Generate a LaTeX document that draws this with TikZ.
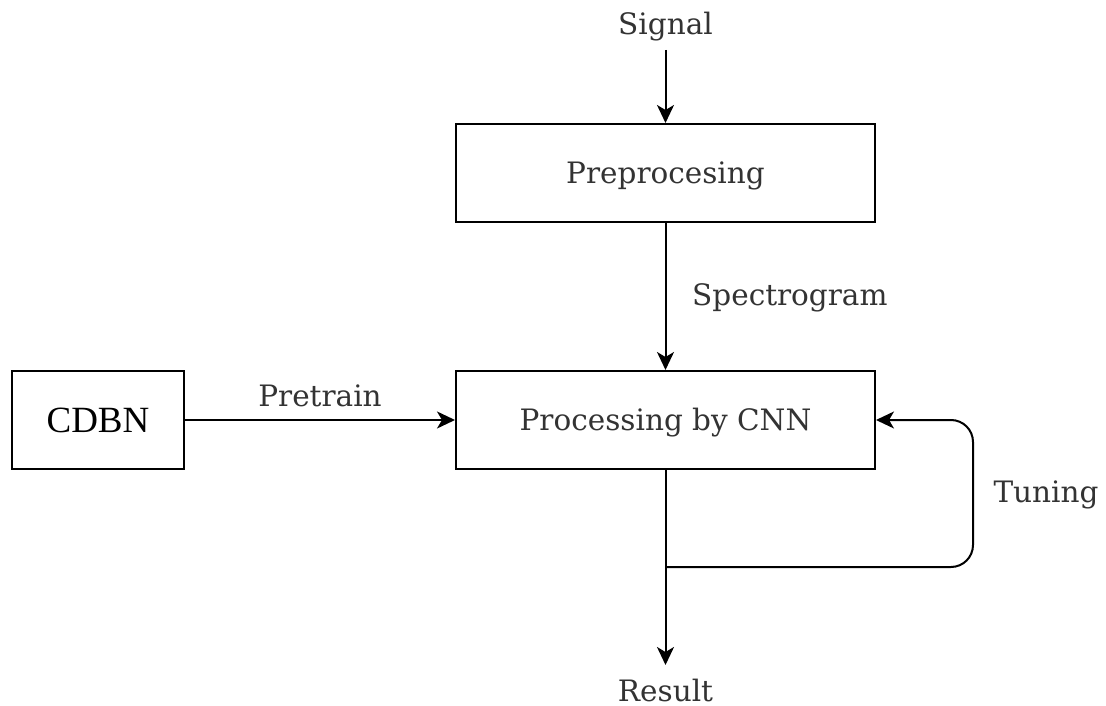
\documentclass[tikz,border=0pt]{standalone}
\usepackage{fontspec}
\setmainfont{DejaVu Serif}
\newfontfamily\timesfont{Liberation Serif}
\usetikzlibrary{arrows.meta}
\tikzset{
  txt/.style={text=black!80, font=\fontsize{29.5}{34}\selectfont, inner sep=0pt},
  block/.style={draw=black, line width=2pt, minimum width=419pt, minimum height=98pt, inner sep=0pt, txt, text height=24pt, text depth=4pt},
  smallblock/.style={draw=black, line width=2pt, minimum width=172pt, minimum height=98pt, inner sep=0pt, text=black, font=\timesfont\fontsize{37}{42}\selectfont},
  flow/.style={line width=2pt, -{Stealth[length=18pt, width=17pt, inset=5pt]}},
}
\begin{document}
\begin{tikzpicture}[x=1pt, y=-1pt]
  \useasboundingbox (0,0) rectangle (1106,706);
  % boxes
  \node[block] (pre) at (665.5,173) {Preprocesing};
  \node[block] (cnn) at (665.5,420) {Processing by CNN};
  \node[smallblock] (cdbn) at (98,420) {CDBN};
  % free labels
  \node[txt] (signal) at (665.5,27) {Signal};
  \node[txt] (result) at (665.5,690) {Result};
  \node[txt, anchor=west] (spec) at (692,298) {Spectrogram};
  \node[txt] (pretrain) at (320,396) {Pretrain};
  \node[txt] (tuning) at (1046,495) {Tuning};
  % connectors
  \coordinate (sigend) at (665.5,50);
  \coordinate (split) at (665.5,567);
  \coordinate (resend) at (665.5,665);
  \draw[flow] (sigend) -- (pre.north);
  \draw[flow] (pre.south) -- (cnn.north);
  \draw[flow] (cdbn.east) -- (cnn.west);
  \draw[flow] (cnn.south) -- (resend);
  \draw[flow, rounded corners=22pt] (split) -- (973,567) -- (973,420) -- (cnn.east);
\end{tikzpicture}
\end{document}
